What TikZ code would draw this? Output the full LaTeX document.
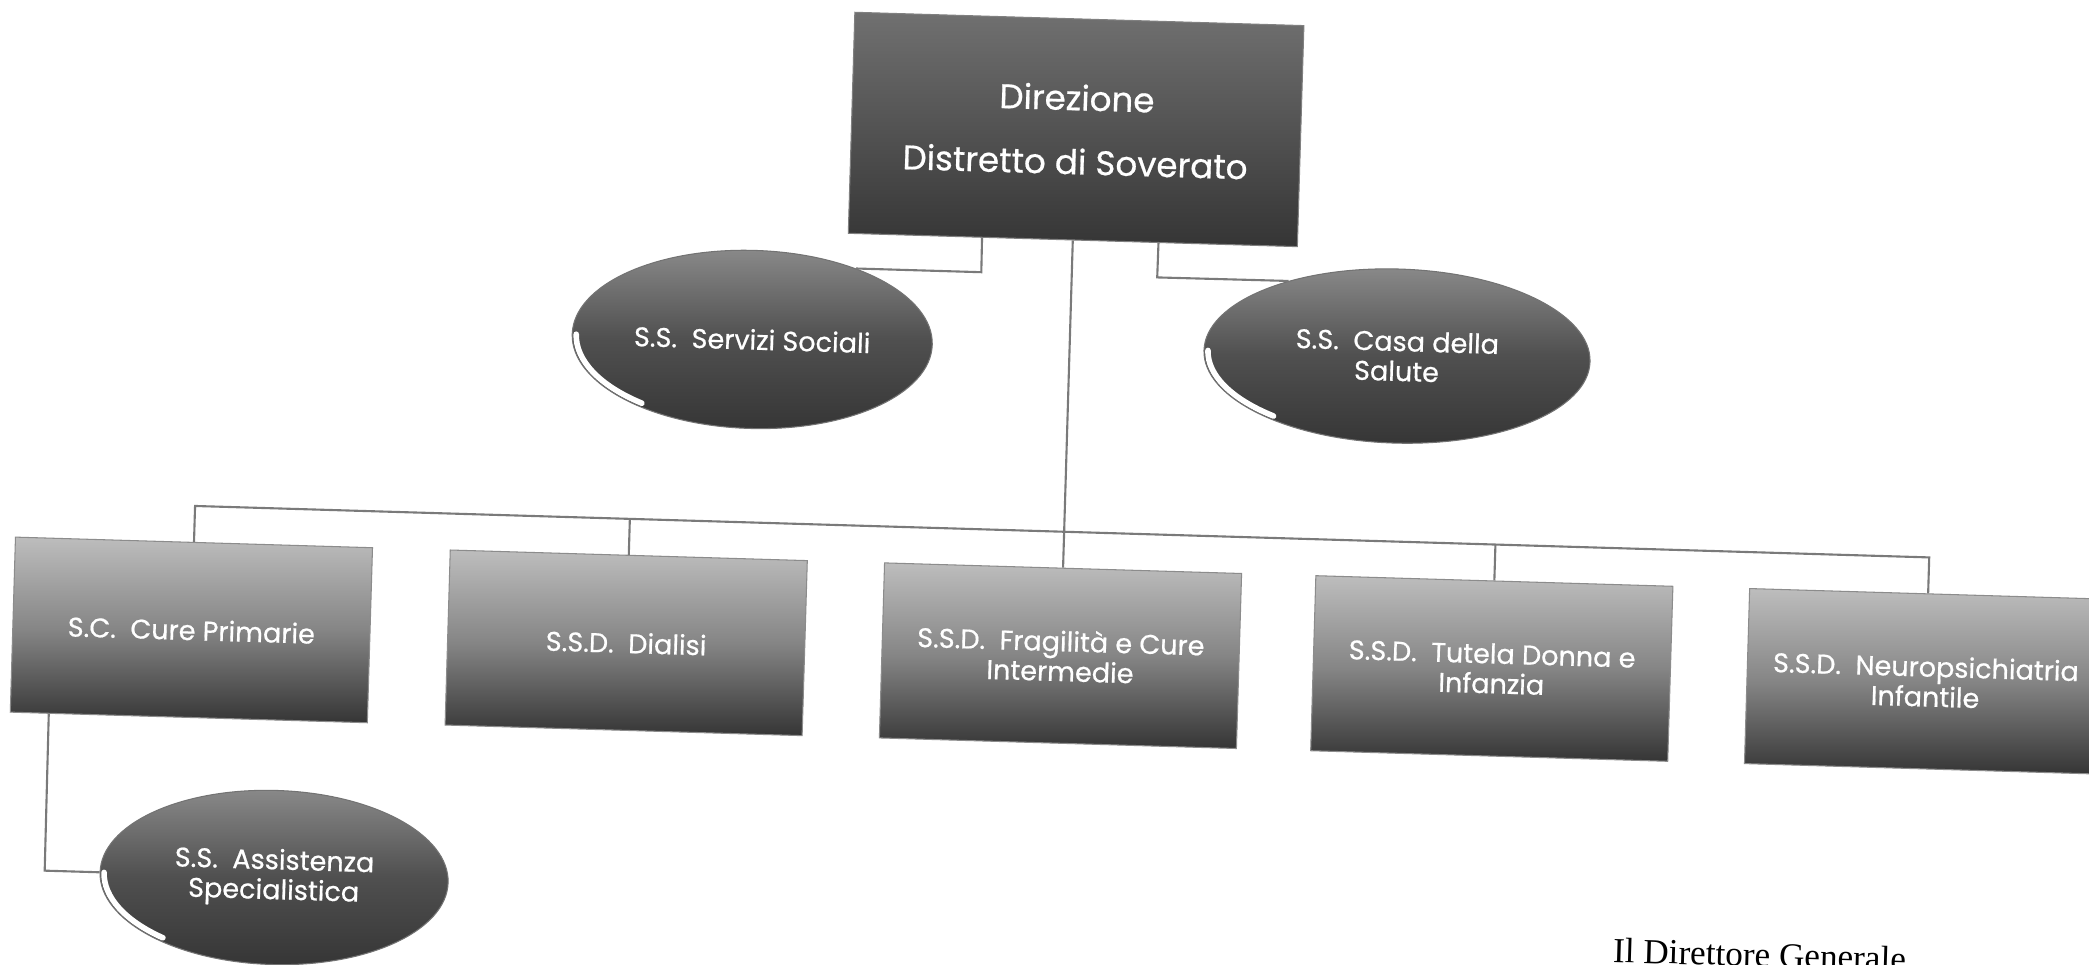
\documentclass[tikz,border=0pt]{standalone}
\usepackage{fontspec}
\setmainfont{Poppins}
\newfontfamily\boxfont{Poppins}[FakeBold=0.6]
\newfontfamily\signfont{Liberation Serif}
\usetikzlibrary{shapes.geometric,calc}
\definecolor{boxtop}{HTML}{BDBDBD}
\definecolor{boxmid}{HTML}{858585}
\definecolor{boxbot}{HTML}{353535}
\definecolor{headtop}{HTML}{707070}
\definecolor{headbot}{HTML}{353535}
\definecolor{ovtop}{HTML}{8A8A8A}
\definecolor{ovmid}{HTML}{505050}
\definecolor{ovbot}{HTML}{363636}
\definecolor{linec}{HTML}{7A7A7A}
\tikzset{
  unitbox/.style={rectangle, minimum width=3.57cm, minimum height=1.75cm, inner sep=0pt,
    top color=boxtop, bottom color=boxbot, middle color=boxmid,
    draw=black!45, line width=0.3pt, text=white, align=center,
    font=\boxfont\fontsize{7.7}{8.5}\selectfont},
  headbox/.style={rectangle, minimum width=4.49cm, minimum height=2.21cm, inner sep=0pt,
    top color=headtop, bottom color=headbot,
    draw=black!50, line width=0.3pt, text=white, align=center,
    font=\boxfont\fontsize{9.7}{18.2}\selectfont},
  oval/.style={ellipse, inner sep=0pt,
    top color=ovtop, bottom color=ovbot, middle color=ovmid,
    draw=black!55, line width=0.3pt, text=white, align=center,
    font=\boxfont\fontsize{7.7}{8.5}\selectfont},
  conn/.style={draw=linec, line width=0.6pt},
  gloss/.style={draw=white, line width=1.6pt, line cap=round},
}
\begin{document}
\begin{tikzpicture}[x=0.01cm,y=-0.01cm]
\clip (0,0) rectangle (2089,964);
\fill[white] (0,0) rectangle (2089,964);
\begin{scope}[rotate=-1.7, transform shape]
  % nodes
  \node[headbox] (top) at (1079.5,97.5) {Direzione\\Distretto di Soverato};
  \node[oval, minimum width=3.60cm, minimum height=1.78cm] (servizi) at (762,317) {S.S.\ \ Servizi Sociali};
  \node[oval, minimum width=3.86cm, minimum height=1.74cm] (casa) at (1407,314.5) {S.S.\ \ Casa della\\Salute};
  \node[unitbox] (cure) at (210,624) {S.C.\ \ Cure Primarie};
  \node[unitbox] (dialisi) at (645,624) {S.S.D.\ \ Dialisi};
  \node[unitbox] (frag) at (1079.5,624) {S.S.D.\ \ Fragilità e Cure\\Intermedie};
  \node[unitbox] (tutela) at (1511,624) {S.S.D.\ \ Tutela Donna e\\Infanzia};
  \node[unitbox] (neuro) at (1945,624) {S.S.D.\ \ Neuropsichiatria\\Infantile};
  \node[oval, minimum width=3.48cm, minimum height=1.74cm] (assist) at (300,869) {S.S.\ \ Assistenza\\Specialistica};
  \node[anchor=base west, inner sep=0pt, font=\signfont\fontsize{10}{12}\selectfont] (sign) at (1640,914) {Il Direttore Generale};
  % glossy crescents
  \draw[gloss] (servizi.center) ++(180:1.76cm and 0.85cm) arc[start angle=180, end angle=232, x radius=1.76cm, y radius=0.85cm];
  \draw[gloss] (casa.center) ++(180:1.89cm and 0.83cm) arc[start angle=180, end angle=230, x radius=1.89cm, y radius=0.83cm];
  \draw[gloss] (assist.center) ++(180:1.70cm and 0.83cm) arc[start angle=180, end angle=230, x radius=1.70cm, y radius=0.83cm];
  % junction coordinates
  \coordinate (jl) at (989,243);
  \coordinate (jr) at (1165,243);
  \coordinate (b1) at (210,500);
  \coordinate (b2) at (645,500);
  \coordinate (b4) at (1511,500);
  \coordinate (b5) at (1945,500);
  \coordinate (ja) at (70.5,869);
  % connectors
  \draw[conn] ($(top.south west)!0.2984!(top.south east)$) -- (jl) -- (servizi.36.5);
  \draw[conn] ($(top.south west)!0.6904!(top.south east)$) -- (jr) -- (casa.147);
  \draw[conn] (top.south) -- (frag.north);
  \draw[conn] (cure.north) -- (b1) -- (b5) -- (neuro.north);
  \draw[conn] (dialisi.north) -- (b2);
  \draw[conn] (tutela.north) -- (b4);
  \draw[conn] ($(cure.south west)!0.109!(cure.south east)$) -- (ja) -- (assist.west);
\end{scope}
\end{tikzpicture}
\end{document}
